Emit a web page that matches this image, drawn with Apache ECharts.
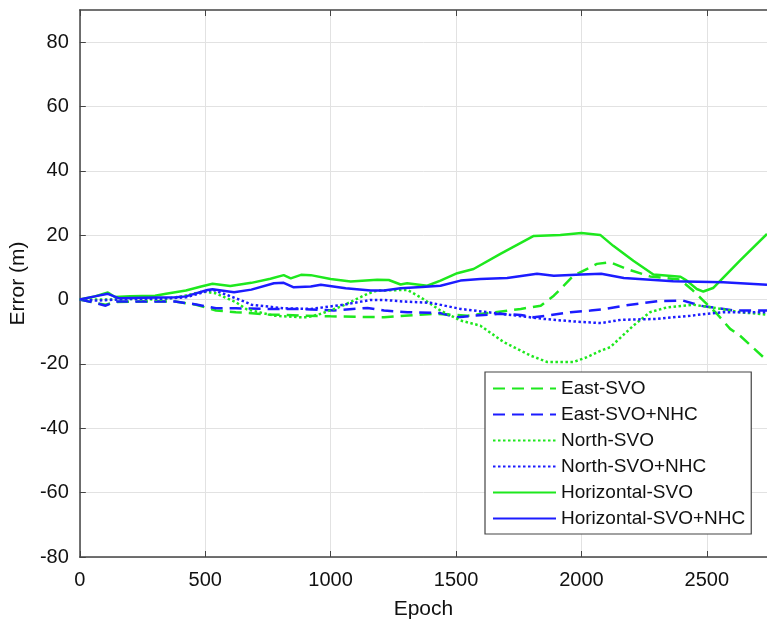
<!DOCTYPE html>
<html>
<head>
<meta charset="utf-8">
<script src="https://cdn.jsdelivr.net/npm/echarts@6/dist/echarts.min.js"></script>
<style>html,body{margin:0;padding:0;background:#fff}#c{width:767px;height:627px}</style>
</head>
<body>
<div id="c"></div>
<script>
const seriesNames = ['East-SVO','East-SVO+NHC','North-SVO','North-SVO+NHC','Horizontal-SVO','Horizontal-SVO+NHC'];
const yTicks = [-80,-60,-40,-20,0,20,40,60,80];
const xTicks = [0,500,1000,1500,2000,2500];

const eastSvo = [[0,0],[60,-1],[103,-1.6],[140,-0.8],[250,-0.6],[380,-0.6],[464,-1.6],[543,-3.4],[622,-3.9],[750,-4.6],[882,-5.0],[1000,-5.2],[1213,-5.5],[1412,-4.4],[1545,-5.0],[1650,-4],[1758,-2.9],[1838,-1.9],[1890,1.2],[1968,7.4],[2062,11.1],[2115,11.6],[2181,9.5],[2274,7.2],[2393,6.2],[2445,2.8],[2486,-0.3],[2540,-4.4],[2593,-9.1],[2632,-11.2],[2724,-17.8],[2740,-19]];
const eastNhc = [[0,0],[60,-1],[103,-1.9],[140,-0.6],[250,-0.6],[380,-0.6],[464,-1.5],[543,-2.7],[622,-2.7],[750,-2.9],[882,-2.9],[1013,-3.4],[1147,-2.6],[1213,-3.4],[1306,-3.9],[1438,-4.2],[1506,-5.5],[1570,-5.0],[1677,-4.4],[1758,-4.8],[1810,-5.5],[1864,-5],[1957,-3.9],[2036,-3.4],[2079,-3.1],[2169,-1.9],[2303,-0.5],[2405,-0.3],[2474,-1.9],[2606,-3.4],[2740,-3.4]];
const northSvo = [[0,0],[100,0],[200,0.2],[330,0],[420,1.2],[490,2.5],[540,2],[622,-0.8],[665,-3],[774,-5],[882,-5.5],[908,-5.5],[962,-4.4],[1040,-2.2],[1147,1.8],[1187,2.8],[1306,3.0],[1359,0.7],[1438,-3.4],[1518,-6.5],[1597,-8.1],[1690,-13.2],[1797,-17.4],[1864,-19.4],[1968,-19.4],[2022,-17.9],[2079,-15.8],[2115,-14.8],[2207,-8.1],[2274,-3.9],[2342,-2.4],[2446,-1.6],[2541,-2.7],[2632,-3.9],[2740,-4.7]];
const northNhc = [[0,0],[65,-0.3],[200,0.2],[330,0.3],[423,0.7],[529,3.1],[595,1.2],[662,-0.8],[684,-1.6],[813,-2.7],[921,-2.9],[1052,-1.6],[1160,-0.1],[1213,-0.1],[1292,-0.6],[1399,-1],[1518,-2.9],[1677,-4.4],[1850,-6.0],[1968,-6.8],[2078,-7.3],[2157,-6.3],[2303,-6.0],[2434,-5],[2565,-3.9],[2740,-3.9]];
const horizSvo = [[0,0],[60,1],[112,2.2],[140,0.8],[200,1],[300,1.2],[344,1.8],[423,2.8],[480,4],[529,4.9],[600,4.2],[684,5.2],[760,6.5],[813,7.6],[841,6.6],[882,7.7],[921,7.6],[1000,6.4],[1080,5.6],[1186,6.2],[1232,6.1],[1279,4.7],[1305,5.1],[1385,4.3],[1438,5.9],[1505,8.2],[1570,9.5],[1677,14.2],[1810,19.8],[1916,20.1],[2000,20.7],[2075,20.1],[2127,16.7],[2207,12.1],[2287,7.8],[2395,7.1],[2420,5.9],[2460,3.3],[2486,2.5],[2525,3.6],[2632,12.1],[2740,20.4]];
const horizNhc = [[0,0],[60,1],[112,1.8],[157,0.4],[250,0.6],[384,0.7],[423,1],[509,3.0],[529,3.2],[615,2.3],[684,3.1],[774,5.1],[813,5.2],[853,3.8],[921,4.1],[961,4.6],[1060,3.5],[1160,2.8],[1213,2.8],[1279,3.5],[1363,3.9],[1438,4.3],[1518,5.9],[1597,6.4],[1704,6.7],[1823,8.0],[1890,7.4],[2000,7.8],[2079,8.0],[2169,6.7],[2366,5.7],[2565,5.4],[2740,4.6]];

const GREEN = '#1ee81e', BLUE = '#1c1cff';
const DASH = [12, 7], DOT = [2.5, 2.5];
const font = 'Liberation Sans, Arial, Helvetica, sans-serif';

function mk(name, data, color, type) {
  return {
    name, type: 'line', data, symbol: 'none', smooth: false,
    lineStyle: { color, width: 2.5, type, cap: 'butt' },
    itemStyle: { color },
    emphasis: { disabled: true }, animation: false, z: 3
  };
}

const chart = echarts.init(document.getElementById('c'), null, { renderer: 'canvas' });
chart.setOption({
  backgroundColor: '#fff',
  animation: false,
  grid: { left: 79, right: 0, top: 10, bottom: 70, containLabel: false },
  xAxis: [{
    type: 'value', min: 0, max: 2740, interval: 500,
    name: 'Epoch', nameLocation: 'middle', nameGap: 42,
    nameTextStyle: { fontSize: 21, color: '#111', fontFamily: font },
    axisLine: { show: true, onZero: false, lineStyle: { color: '#444', width: 1.5 } },
    axisTick: { show: true, inside: true, length: 6, lineStyle: { color: '#444' } },
    axisLabel: { fontSize: 20, color: '#111', fontFamily: font, margin: 13, showMaxLabel: false, formatter: v => String(v) },
    splitLine: { show: true, showMaxLine: false, lineStyle: { color: '#e2e2e2', width: 1 } }
  }, {
    type: 'value', position: 'top', min: 0, max: 2740, interval: 500,
    axisLine: { show: true, onZero: false, lineStyle: { color: '#444', width: 1.5 } },
    axisTick: { show: true, inside: true, length: 6, lineStyle: { color: '#444' } },
    axisLabel: { show: false }, splitLine: { show: false }
  }],
  yAxis: {
    type: 'value', min: -80, max: 90, interval: 20,
    name: 'Error (m)', nameLocation: 'middle', nameGap: 45, nameRotate: 90,
    nameTextStyle: { fontSize: 21, color: '#111', fontFamily: font },
    axisLine: { show: true, onZero: false, lineStyle: { color: '#444', width: 1.5 } },
    axisTick: { show: true, inside: true, length: 6, lineStyle: { color: '#444' } },
    axisLabel: { fontSize: 20, color: '#111', fontFamily: font, margin: 11, showMaxLabel: false, formatter: v => String(v) },
    splitLine: { show: true, showMaxLine: false, lineStyle: { color: '#e2e2e2', width: 1 } }
  },
  legend: {
    data: seriesNames, orient: 'vertical', left: 485, top: 372,
    backgroundColor: '#fff', borderColor: '#444', borderWidth: 1.2,
    padding: [7, 6, 6, 7], itemWidth: 63, itemHeight: 14, itemGap: 7,
    itemStyle: { opacity: 0 },
    textStyle: { fontSize: 19, color: '#111', fontFamily: font, lineHeight: 19 },
    selectedMode: false
  },
  series: [
    mk(seriesNames[0], eastSvo, GREEN, DASH),
    mk(seriesNames[1], eastNhc, BLUE, DASH),
    mk(seriesNames[2], northSvo, GREEN, DOT),
    mk(seriesNames[3], northNhc, BLUE, DOT),
    mk(seriesNames[4], horizSvo, GREEN, 'solid'),
    mk(seriesNames[5], horizNhc, BLUE, 'solid')
  ]
});
</script>
</body>
</html>
